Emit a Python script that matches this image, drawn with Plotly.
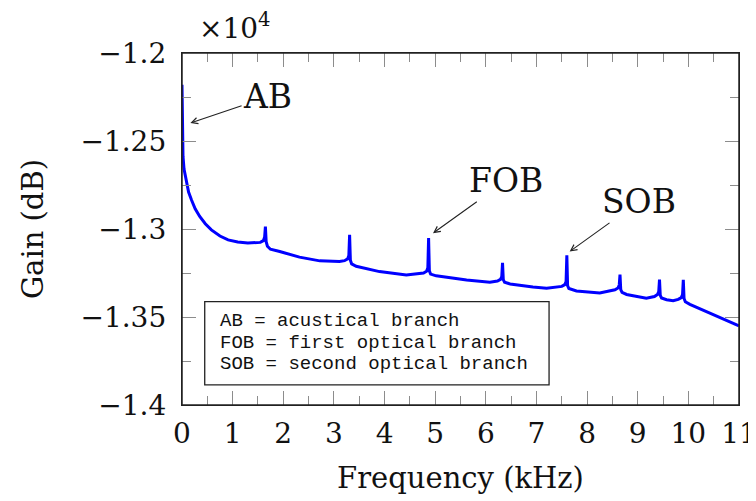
import plotly.graph_objects as go

# ---- data ----
freq_khz = [0, 0.004, 0.01, 0.02, 0.04, 0.087, 0.13, 0.186, 0.26, 0.35, 0.46, 0.58, 0.75, 0.91,
            1.1, 1.3, 1.45, 1.547, 1.607, 1.632, 1.647, 1.662, 1.687, 1.747, 1.93, 2.32, 2.72,
            3.11, 3.21, 3.27, 3.295, 3.31, 3.325, 3.35, 3.44, 3.9, 4.43, 4.77, 4.83, 4.855, 4.87,
            4.885, 4.91, 5.02, 5.48, 5.62, 6.08, 6.23, 6.29, 6.315, 6.33, 6.345, 6.37, 6.48, 6.93,
            7.2, 7.5, 7.56, 7.585, 7.6, 7.615, 7.64, 7.79, 8.25, 8.55, 8.61, 8.635, 8.65, 8.665,
            8.69, 8.78, 9.17, 9.33, 9.39, 9.415, 9.43, 9.445, 9.47, 9.57, 9.70, 9.80, 9.86, 9.885,
            9.90, 9.915, 9.94, 10.03, 10.29, 10.42, 10.88, 11]
gain_db = [-12180, -12350, -12480, -12588, -12660, -12730, -12790, -12834, -12885, -12929, -12970,
           -13005, -13040, -13062, -13074, -13080, -13080, -13076, -13066, -13045, -12986, -13072,
           -13098, -13115, -13128, -13160, -13181, -13185, -13180, -13170, -13150, -13033, -13178,
           -13198, -13212, -13242, -13261, -13250, -13240, -13220, -13052, -13238, -13256, -13266,
           -13284, -13290, -13302, -13296, -13286, -13270, -13192, -13288, -13302, -13312, -13330,
           -13337, -13326, -13316, -13298, -13150, -13322, -13338, -13352, -13364, -13345, -13335,
           -13318, -13259, -13345, -13360, -13372, -13393, -13384, -13372, -13355, -13287, -13377,
           -13392, -13402, -13407, -13400, -13390, -13372, -13289, -13395, -13413, -13428, -13460,
           -13478, -13536, -13550]

x_ticks = list(range(0, 12))
x_tick_labels = [str(v) for v in x_ticks]
x_minor_ticks = [v + 0.5 for v in range(0, 11)]
y_ticks = [-14000, -13500, -13000, -12500, -12000]
y_tick_labels = ["\u22121.4", "\u22121.35", "\u22121.3", "\u22121.25", "\u22121.2"]
y_minor_ticks = [-13750, -13250, -12750, -12250]

branch_labels = ["AB", "FOB", "SOB"]
arrow_head_x = [0.166, 4.957, 7.656]
arrow_head_y = [-12398, -13024, -13128]
label_x = [1.69, 6.40, 9.02]
label_y = [-12249, -12726, -12846]

legend_lines = ["AB = acustical branch", "FOB = first optical branch", "SOB = second optical branch"]

FONT = "DejaVu Serif"
BOX_FONT = "Liberation Mono"
TICK_GREY = "#8c8c8c"
FRAME = "#222222"
CLEAR = "rgba(0,0,0,0)"

fig = go.Figure()
fig.add_trace(go.Scatter(x=freq_khz, y=gain_db, mode="lines",
                         line=dict(color="#0000ff", width=3), showlegend=False))
# empty traces that only carry the overlaid tick axes (inside major / minor ticks)
fig.add_trace(go.Scatter(x=[], y=[], xaxis="x2", yaxis="y2", showlegend=False, hoverinfo="skip"))
fig.add_trace(go.Scatter(x=[], y=[], xaxis="x3", yaxis="y3", showlegend=False, hoverinfo="skip"))

annotations = []
for lab, hx, hy, lx, ly in zip(branch_labels, arrow_head_x, arrow_head_y, label_x, label_y):
    annotations.append(dict(x=hx, y=hy, ax=lx, ay=ly, xref="x", yref="y", axref="x", ayref="y",
                            text=lab, showarrow=True, arrowhead=5, arrowsize=1.1, arrowwidth=1.1,
                            arrowcolor="#222222",
                            font=dict(family=FONT, size=33, color="#111111")))

legend_y = [0.2397, 0.1771, 0.1166]
for line_text, ly in zip(legend_lines, legend_y):
    annotations.append(dict(x=0.0641, y=ly, xref="paper", yref="paper", text=line_text,
                            showarrow=False, xanchor="left", yanchor="middle",
                            font=dict(family=BOX_FONT, size=19, color="#111111")))

annotations.append(dict(x=0.095, y=1.0, xref="paper", yref="paper", text="\u00d710<sup>4</sup>",
                        showarrow=False, xanchor="center", yanchor="bottom", yshift=6,
                        font=dict(family=FONT, size=28, color="#111111")))


def tick_axis(overlay, vals, length):
    return dict(overlaying=overlay, matches=overlay, anchor="y" if overlay == "x" else "x",
                tickmode="array", tickvals=vals, ticks="inside", ticklen=length,
                tickcolor=TICK_GREY, tickwidth=1, mirror="ticks", showline=False,
                showticklabels=False, showgrid=False, zeroline=False, automargin=False)


# the page body has an 8px margin, so the figure is 8px smaller than the window
fig.update_layout(
    width=748, height=493,
    margin=dict(l=174, r=17, t=45, b=96, autoexpand=False),
    paper_bgcolor="white", plot_bgcolor="white",
    annotations=annotations,
    shapes=[dict(type="rect", xref="paper", yref="paper", x0=0.0408, x1=0.659, y0=0.0569, y1=0.2937,
                 line=dict(color="#222222", width=1.3), fillcolor="white", layer="below"),
            dict(type="rect", xref="paper", yref="paper", x0=0, x1=1, y0=0, y1=1,
                 line=dict(color=FRAME, width=1.5), fillcolor=CLEAR, layer="above")],
    xaxis=dict(range=[0, 11], tickmode="array", tickvals=x_ticks, ticktext=x_tick_labels,
               ticks="outside", ticklen=3, tickcolor=CLEAR,
               showline=True, linecolor=FRAME, linewidth=1.3, mirror=True,
               showgrid=False, zeroline=False, automargin=False, ticklabeloverflow="allow",
               tickfont=dict(family=FONT, size=28, color="#111111"),
               title=dict(text="Frequency (kHz)", font=dict(family=FONT, size=29, color="#111111"),
                          standoff=18)),
    yaxis=dict(range=[-14000, -12000], tickmode="array", tickvals=y_ticks, ticktext=y_tick_labels,
               ticks="outside", ticklen=9, tickcolor=CLEAR,
               showline=True, linecolor=FRAME, linewidth=1.3, mirror=True,
               showgrid=False, zeroline=False, automargin=False,
               tickfont=dict(family=FONT, size=28, color="#111111"),
               title=dict(text="Gain (dB)", font=dict(family=FONT, size=29, color="#111111"),
                          standoff=28)),
    xaxis2=tick_axis("x", x_ticks, 14),
    yaxis2=tick_axis("y", y_ticks, 14),
    xaxis3=tick_axis("x", x_minor_ticks, 9),
    yaxis3=tick_axis("y", y_minor_ticks, 9),
)

fig.write_html("out.html")
